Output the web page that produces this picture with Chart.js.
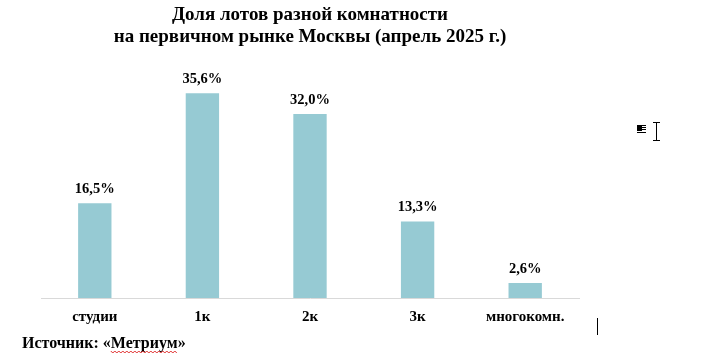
<!DOCTYPE html>
<html>
<head>
<meta charset="utf-8">
<script src="https://cdn.jsdelivr.net/npm/chart.js@4"></script>
<style>
  html, body { margin: 0; padding: 0; background: #fff; }
  #wrap { width: 702px; height: 360px; position: relative; }
</style>
</head>
<body>
<div id="wrap"><canvas id="chart" width="702" height="360"></canvas></div>
<script>
// Chart data
const categories = ['студии', '1к', '2к', '3к', 'многокомн.'];
const shares = [16.5, 35.6, 32.0, 13.3, 2.6];
const titleLines = ['Доля лотов разной комнатности', 'на первичном рынке Москвы (апрель 2025 г.)'];
const sourceText = 'Источник: «Метриум»';

const serif = '"Liberation Serif", "Times New Roman", serif';

// Value labels above bars, title and source line
const textPlugin = {
    id: 'texts',
    afterDatasetsDraw(chart) {
        const ctx = chart.ctx;
        const meta = chart.getDatasetMeta(0);
        ctx.save();
        ctx.fillStyle = '#000';
        ctx.font = 'bold 14.5px ' + serif;
        ctx.textAlign = 'center';
        ctx.textBaseline = 'bottom';
        meta.data.forEach((bar, i) => {
            ctx.fillText(shares[i].toFixed(1).replace('.', ',') + '%', bar.x, bar.y - 7);
        });

        // title
        const cx = (chart.chartArea.left + chart.chartArea.right) / 2;
        ctx.font = 'bold 19px ' + serif;
        ctx.textBaseline = 'middle';
        ctx.fillText(titleLines[0], cx, 15);
        ctx.fillText(titleLines[1], cx, 37);

        // source
        ctx.font = 'bold 16px ' + serif;
        ctx.textAlign = 'left';
        ctx.fillText(sourceText, 22, 344);
        // spell-check squiggle under the source name
        const x0 = 22 + ctx.measureText('Источник: «').width;
        const x1 = 22 + ctx.measureText('Источник: «Метриум').width;
        ctx.strokeStyle = '#e03030';
        ctx.lineWidth = 1;
        ctx.beginPath();
        for (let x = x0, k = 0; x <= x1; x += 2, k++) {
            const y = 352 + (k % 2 ? 1 : -1);
            if (k === 0) ctx.moveTo(x, y); else ctx.lineTo(x, y);
        }
        ctx.stroke();

        // stray editor marks from the original screenshot
        ctx.strokeStyle = '#000';
        ctx.fillStyle = '#000';
        ctx.fillRect(637, 126, 5, 5);
        ctx.beginPath();
        ctx.moveTo(637, 125.5); ctx.lineTo(646, 125.5);
        ctx.moveTo(642, 127.5); ctx.lineTo(646, 127.5);
        ctx.moveTo(642, 129.5); ctx.lineTo(646, 129.5);
        ctx.moveTo(637, 132.5); ctx.lineTo(646, 132.5);
        ctx.moveTo(656.5, 123); ctx.lineTo(656.5, 140);
        ctx.moveTo(653, 122.5); ctx.lineTo(660, 122.5);
        ctx.moveTo(653, 140.5); ctx.lineTo(660, 140.5);
        ctx.moveTo(597.5, 318); ctx.lineTo(597.5, 335);
        ctx.stroke();
        ctx.restore();
    }
};

const ctx = document.getElementById('chart').getContext('2d');
new Chart(ctx, {
    type: 'bar',
    data: {
        labels: categories,
        datasets: [{
            data: shares,
            backgroundColor: '#96cad3',
            borderWidth: 0,
            barPercentage: 0.62,
            categoryPercentage: 0.5
        }]
    },
    options: {
        responsive: false,
        animation: false,
        layout: { padding: { left: 41, right: 123, top: 68, bottom: 24 } },
        plugins: {
            legend: { display: false },
            tooltip: { enabled: false }
        },
        scales: {
            x: {
                grid: { display: false, drawTicks: false },
                border: { display: true, color: '#d9d9d9', width: 1 },
                ticks: {
                    color: '#000',
                    padding: 10,
                    font: { family: serif, size: 15, weight: 'bold' }
                }
            },
            y: {
                display: false,
                min: 0,
                max: 40
            }
        }
    },
    plugins: [textPlugin]
});
</script>
</body>
</html>
